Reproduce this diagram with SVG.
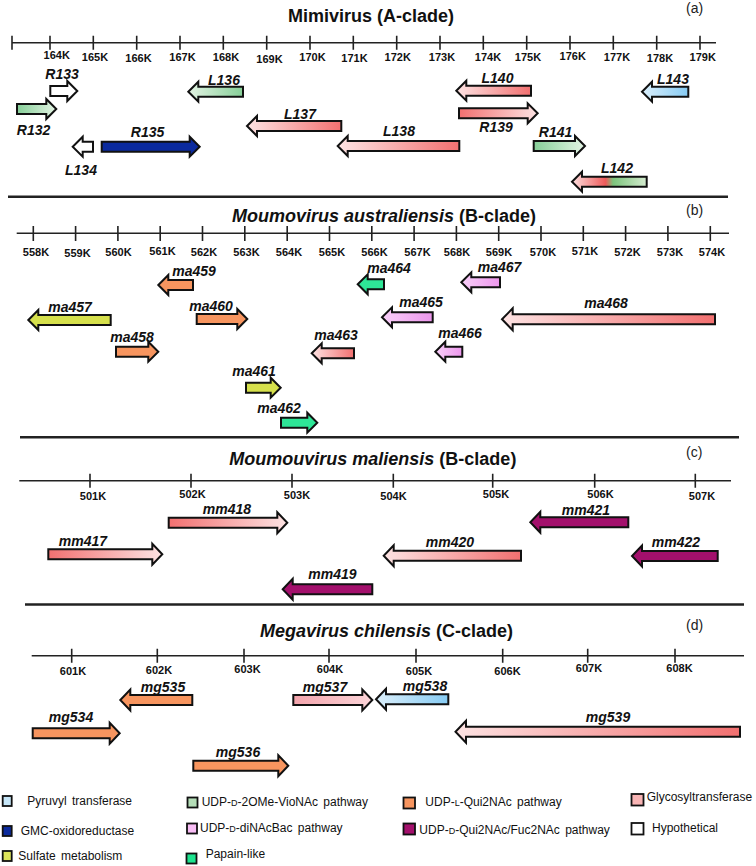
<svg xmlns="http://www.w3.org/2000/svg" width="756" height="866" viewBox="0 0 756 866">
<style>
.ax{stroke:#222;stroke-width:1.6;fill:none}
.sep{stroke:#222;stroke-width:2.4;fill:none}
.tk{font-family:"Liberation Sans",Arial,sans-serif;font-weight:bold;font-size:11px;fill:#111;text-anchor:middle}
.tt{font-family:"Liberation Sans",Arial,sans-serif;font-weight:bold;font-size:18px;fill:#111}
.pl{font-family:"Liberation Sans",Arial,sans-serif;font-size:14px;fill:#222}
.gl{font-family:"Liberation Sans",Arial,sans-serif;font-weight:bold;font-style:italic;font-size:14px;fill:#111;text-anchor:middle}
.g path{stroke:#111;stroke-width:2;stroke-linejoin:miter}
.lg{font-family:"Liberation Sans",Arial,sans-serif;font-size:12px;fill:#111;word-spacing:2px}
.sw{stroke:#111;stroke-width:1.8}
.sc{font-size:9px}
</style>
<defs>
<linearGradient id="pinkR" x1="0" y1="0" x2="1" y2="0"><stop offset="0" stop-color="#f27070"/><stop offset="1" stop-color="#fde3e3"/></linearGradient>
<linearGradient id="pinkL" x1="0" y1="0" x2="1" y2="0"><stop offset="0" stop-color="#fde3e3"/><stop offset="1" stop-color="#f27070"/></linearGradient>
<linearGradient id="pinkLt" x1="0" y1="0" x2="1" y2="0"><stop offset="0" stop-color="#f3a4ac"/><stop offset="1" stop-color="#fbd4d8"/></linearGradient>
<linearGradient id="greenR" x1="0" y1="0" x2="1" y2="0"><stop offset="0" stop-color="#86cf98"/><stop offset="1" stop-color="#e4f4e4"/></linearGradient>
<linearGradient id="greenL" x1="0" y1="0" x2="1" y2="0"><stop offset="0" stop-color="#e4f4e4"/><stop offset="1" stop-color="#86cf98"/></linearGradient>
<linearGradient id="blueL" x1="0" y1="0" x2="1" y2="0"><stop offset="0" stop-color="#dbeffb"/><stop offset="1" stop-color="#86cbf3"/></linearGradient>
<linearGradient id="violetL" x1="0" y1="0" x2="1" y2="0"><stop offset="0" stop-color="#f9d0f9"/><stop offset="1" stop-color="#ec96ec"/></linearGradient>
<linearGradient id="rg" x1="0" y1="0" x2="1" y2="0"><stop offset="0" stop-color="#fde0e0"/><stop offset="0.45" stop-color="#ee5a5a"/><stop offset="0.55" stop-color="#7cc47c"/><stop offset="1" stop-color="#d5ecd0"/></linearGradient>
</defs>
<rect width="756" height="866" fill="#fff"/>

<g id="axes">
<!-- panel a -->
<text class="tt" x="288" y="22">Mimivirus (A-clade)</text>
<text class="pl" x="686" y="12.5">(a)</text>
<path class="ax" d="M12,42.7H716M12,35.7V49.7M50,35.7V49.7M93.3,35.7V49.7M136.7,35.7V49.7M180,35.7V49.7M223.3,35.7V49.7M266.7,35.7V49.7M310,35.7V49.7M353.3,35.7V49.7M396.7,35.7V49.7M440,35.7V49.7M483.3,35.7V49.7M526.7,35.7V49.7M570,35.7V49.7M613.3,35.7V49.7M656.7,35.7V49.7M700,35.7V49.7"/>
<text class="tk" x="56.7" y="59">164K</text><text class="tk" x="95" y="60.5">165K</text><text class="tk" x="138.5" y="62">166K</text><text class="tk" x="182.5" y="61">167K</text><text class="tk" x="226" y="61">168K</text><text class="tk" x="269.5" y="62.5">169K</text><text class="tk" x="312.5" y="61">170K</text><text class="tk" x="354.5" y="61.5">171K</text><text class="tk" x="397.7" y="61">172K</text><text class="tk" x="442" y="61">173K</text><text class="tk" x="488" y="61">174K</text><text class="tk" x="528" y="61">175K</text><text class="tk" x="572.7" y="60">176K</text><text class="tk" x="617" y="61">177K</text><text class="tk" x="660" y="61.5">178K</text><text class="tk" x="702.7" y="60.5">179K</text>
<path class="sep" d="M8,196.7H728"/>

<!-- panel b -->
<text class="tt" x="232" y="221.5"><tspan font-style="italic">Moumovirus australiensis</tspan> (B-clade)</text>
<text class="pl" x="686" y="214.7">(b)</text>
<path class="ax" d="M16.7,233.3H729M33.3,226V241M75.6,226V241M117.9,226V241M160.2,226V241M202.5,226V241M244.8,226V241M287.2,226V241M329.5,226V241M371.8,226V241M414.1,226V241M456.4,226V241M498.7,226V241M541,226V241M583.3,226V241M625.6,226V241M667.9,226V241M710.3,226V241"/>
<text class="tk" x="36" y="256">558K</text><text class="tk" x="77.5" y="256.5">559K</text><text class="tk" x="118.5" y="256">560K</text><text class="tk" x="162.5" y="254.5">561K</text><text class="tk" x="204" y="256">562K</text><text class="tk" x="246.5" y="256">563K</text><text class="tk" x="289" y="255.5">564K</text><text class="tk" x="332" y="255.5">565K</text><text class="tk" x="374.5" y="256">566K</text><text class="tk" x="417.5" y="256">567K</text><text class="tk" x="457" y="256">568K</text><text class="tk" x="499" y="256">569K</text><text class="tk" x="543" y="256">570K</text><text class="tk" x="585" y="255">571K</text><text class="tk" x="627.5" y="255.5">572K</text><text class="tk" x="670" y="255.5">573K</text><text class="tk" x="712" y="255.5">574K</text>
<path class="sep" d="M20,437.3H739"/>

<!-- panel c -->
<text class="tt" x="229.3" y="465"><tspan font-style="italic">Moumouvirus maliensis</tspan> (B-clade)</text>
<text class="pl" x="686" y="456.5">(c)</text>
<path class="ax" d="M19.3,480.7H731M90,473.7V487.7M191,473.7V487.7M292,473.7V487.7M393.3,473.7V487.7M492.7,473.7V487.7M594.7,473.7V487.7M695.3,473.7V487.7"/>
<text class="tk" x="93" y="500">501K</text><text class="tk" x="192.5" y="498.3">502K</text><text class="tk" x="297" y="499">503K</text><text class="tk" x="393.5" y="500">504K</text><text class="tk" x="496" y="498">505K</text><text class="tk" x="600.5" y="498">506K</text><text class="tk" x="702" y="500">507K</text>
<path class="sep" d="M25,604.5H744"/>

<!-- panel d -->
<text class="tt" x="260" y="636.5"><tspan font-style="italic">Megavirus chilensis</tspan> (C-clade)</text>
<text class="pl" x="686" y="629.7">(d)</text>
<path class="ax" d="M31.7,655.7H744M71.7,648.7V662.7M157.3,648.7V662.7M244,648.7V662.7M329,648.7V662.7M416,648.7V662.7M502.7,648.7V662.7M587.7,648.7V662.7M675,648.7V662.7"/>
<text class="tk" x="73" y="675">601K</text><text class="tk" x="159" y="674">602K</text><text class="tk" x="247.5" y="672.7">603K</text><text class="tk" x="330" y="672.7">604K</text><text class="tk" x="419" y="675">605K</text><text class="tk" x="507.5" y="675">606K</text><text class="tk" x="589" y="671.7">607K</text><text class="tk" x="679.5" y="671.7">608K</text>
</g>

<!-- genes panel a -->
<g id="R133" class="g"><path fill="#fff" d="M50.3,86H67.3V81L77.3,91L67.3,101V96H50.3Z"/><text class="gl" x="62" y="79">R133</text></g>
<g id="R132" class="g"><path fill="url(#greenR)" d="M17,104H46.3V99L56.3,109L46.3,119V114H17Z"/><text class="gl" x="33.5" y="135">R132</text></g>
<g id="L134" class="g"><path fill="#fff" d="M93,141.7H82.7V136.7L72.7,146.7L82.7,156.7V151.7H93Z"/><text class="gl" x="81" y="175">L134</text></g>
<g id="R135" class="g"><path fill="#0b2a9e" d="M101.7,141.7H189.7V136.7L199.7,146.7L189.7,156.7V151.7H101.7Z"/><text class="gl" x="147.5" y="136.7">R135</text></g>
<g id="L136" class="g"><path fill="url(#greenL)" d="M243,86.7H198.3V81.7L188.3,91.7L198.3,101.7V96.7H243Z"/><text class="gl" x="224" y="85">L136</text></g>
<g id="L137" class="g"><path fill="url(#pinkL)" d="M341.3,121H257V116L247,126L257,136V131H341.3Z"/><text class="gl" x="300" y="119">L137</text></g>
<g id="L138" class="g"><path fill="url(#pinkL)" d="M459.3,141H347.7V136L337.7,146L347.7,156V151H459.3Z"/><text class="gl" x="399" y="135.7">L138</text></g>
<g id="L140" class="g"><path fill="url(#pinkL)" d="M531,85.7H466.3V80.7L456.3,90.7L466.3,100.7V95.7H531Z"/><text class="gl" x="497.5" y="83.3">L140</text></g>
<g id="R139" class="g"><path fill="url(#pinkR)" d="M459,108.3H527.7V103.3L537.7,113.3L527.7,123.3V118.3H459Z"/><text class="gl" x="496" y="131.7">R139</text></g>
<g id="R141" class="g"><path fill="url(#greenR)" d="M533.7,141H575V136L585,146L575,156V151H533.7Z"/><text class="gl" x="555.5" y="136.7">R141</text></g>
<g id="L142" class="g"><path fill="url(#rg)" d="M646.7,176.7H582V171.7L572,181.7L582,191.7V186.7H646.7Z"/><text class="gl" x="617" y="173.3">L142</text></g>
<g id="L143" class="g"><path fill="url(#blueL)" d="M688.3,86.7H652V81.7L642,91.7L652,101.7V96.7H688.3Z"/><text class="gl" x="673" y="84">L143</text></g>

<!-- genes panel b -->
<g id="ma459" class="g"><path fill="#f7955f" d="M193,280H168.3V275L158.3,285L168.3,295V290H193Z"/><text class="gl" x="194" y="276">ma459</text></g>
<g id="ma457" class="g"><path fill="#d6e04c" d="M110.7,315H38.3V310L28.3,320L38.3,330V325H110.7Z"/><text class="gl" x="70" y="312">ma457</text></g>
<g id="ma460" class="g"><path fill="#f7955f" d="M196.7,314H237.3V309L247.3,319L237.3,329V324H196.7Z"/><text class="gl" x="211" y="311">ma460</text></g>
<g id="ma458" class="g"><path fill="#f7955f" d="M116,346.7H148.3V341.7L158.3,351.7L148.3,361.7V356.7H116Z"/><text class="gl" x="132" y="341.7">ma458</text></g>
<g id="ma463" class="g"><path fill="url(#pinkL)" d="M354,348.3H321.7V343.3L311.7,353.3L321.7,363.3V358.3H354Z"/><text class="gl" x="336" y="340">ma463</text></g>
<g id="ma461" class="g"><path fill="#d6e04c" d="M246,382.7H270.7V377.7L280.7,387.7L270.7,397.7V392.7H246Z"/><text class="gl" x="254" y="375.7">ma461</text></g>
<g id="ma462" class="g"><path fill="#2ee697" d="M281,417.7H307.3V412.7L317.3,422.7L307.3,432.7V427.7H281Z"/><text class="gl" x="279" y="413.3">ma462</text></g>
<g id="ma464" class="g"><path fill="#2ee697" d="M384,279.3H367.7V274.3L357.7,284.3L367.7,294.3V289.3H384Z"/><text class="gl" x="389" y="273.3">ma464</text></g>
<g id="ma467" class="g"><path fill="url(#violetL)" d="M500,277.3H471.3V272.3L461.3,282.3L471.3,292.3V287.3H500Z"/><text class="gl" x="499.5" y="272.3">ma467</text></g>
<g id="ma465" class="g"><path fill="url(#violetL)" d="M432.7,312.3H392V307.3L382,317.3L392,327.3V322.3H432.7Z"/><text class="gl" x="421" y="306.7">ma465</text></g>
<g id="ma466" class="g"><path fill="url(#violetL)" d="M462.3,346.7H445.3V341.7L435.3,351.7L445.3,361.7V356.7H462.3Z"/><text class="gl" x="460" y="337.7">ma466</text></g>
<g id="ma468" class="g"><path fill="url(#pinkL)" d="M715,314.3H512.7V308.3L502,319.3L512.7,330.3V324.3H715Z"/><text class="gl" x="606" y="308.3">ma468</text></g>

<!-- genes panel c -->
<g id="mm418" class="g"><path fill="url(#pinkR)" d="M168.7,517.7H277.3V512.2L287.3,522.7L277.3,533.2V527.7H168.7Z"/><text class="gl" x="227" y="514">mm418</text></g>
<g id="mm417" class="g"><path fill="url(#pinkR)" d="M48.3,549.3H152.3V543.8L162.3,554.3L152.3,564.8V559.3H48.3Z"/><text class="gl" x="83" y="546">mm417</text></g>
<g id="mm419" class="g"><path fill="#a3106c" d="M372.3,584.3H292.7V578.8L282.7,589.3L292.7,599.8V594.3H372.3Z"/><text class="gl" x="332.5" y="579">mm419</text></g>
<g id="mm421" class="g"><path fill="#a3106c" d="M628.3,517.3H540.3V511.8L530.3,522.3L540.3,532.8V527.3H628.3Z"/><text class="gl" x="586" y="515">mm421</text></g>
<g id="mm420" class="g"><path fill="url(#pinkL)" d="M521,550.7H393.7V545.2L383.7,555.7L393.7,566.2V560.7H521Z"/><text class="gl" x="450" y="546.7">mm420</text></g>
<g id="mm422" class="g"><path fill="#a3106c" d="M717.7,551H642V545.5L632,556L642,566.5V561H717.7Z"/><text class="gl" x="676" y="546.7">mm422</text></g>

<!-- genes panel d -->
<g id="mg535" class="g"><path fill="#f7955f" d="M192.3,695H130.3V689.5L120.3,700L130.3,710.5V705H192.3Z"/><text class="gl" x="163" y="692.3">mg535</text></g>
<g id="mg534" class="g"><path fill="#f7955f" d="M32.7,728.3H109.7V722.8L119.7,733.3L109.7,743.8V738.3H32.7Z"/><text class="gl" x="71" y="721.7">mg534</text></g>
<g id="mg536" class="g"><path fill="#f7955f" d="M193.3,760.7H278.3V755.2L288.3,765.7L278.3,776.2V770.7H193.3Z"/><text class="gl" x="238" y="756.7">mg536</text></g>
<g id="mg537" class="g"><path fill="url(#pinkLt)" d="M293.3,695H362.3V689.5L372.3,700L362.3,710.5V705H293.3Z"/><text class="gl" x="325" y="692.3">mg537</text></g>
<g id="mg538" class="g"><path fill="url(#blueL)" d="M448.3,694.3H386V688.8L376,699.3L386,709.8V704.3H448.3Z"/><text class="gl" x="425" y="690.7">mg538</text></g>
<g id="mg539" class="g"><path fill="url(#pinkL)" d="M740,726.7H466V720.7L455.5,731.7L466,742.7V736.7H740Z"/><text class="gl" x="608" y="721.7">mg539</text></g>

<!-- legend -->
<g id="legend">
<rect class="sw" x="2.7" y="796" width="9" height="10" fill="#c6e6f8"/><text class="lg" x="27.3" y="805">Pyruvyl transferase</text>
<rect class="sw" x="2.7" y="826" width="9" height="10" fill="#0b2a9c"/><text class="lg" x="20.7" y="835">GMC-oxidoreductase</text>
<rect class="sw" x="2.7" y="851" width="9" height="10" fill="#dde45a"/><text class="lg" x="18.3" y="860">Sulfate metabolism</text>
<rect class="sw" x="187.5" y="797.5" width="10" height="10" fill="#b5deb8"/><text class="lg" x="201.7" y="806">UDP-<tspan class="sc">D</tspan>-2OMe-VioNAc pathway</text>
<rect class="sw" x="187" y="823.5" width="10" height="10" fill="#f8bdf5"/><text class="lg" x="200" y="832">UDP-<tspan class="sc">D</tspan>-diNAcBac pathway</text>
<rect class="sw" x="186.5" y="853.5" width="10" height="10" fill="#1de38e"/><text class="lg" x="205.7" y="858">Papain-like</text>
<rect class="sw" x="403.5" y="797.5" width="11.5" height="11" fill="#f7955f"/><text class="lg" x="425.3" y="806">UDP-<tspan class="sc">L</tspan>-Qui2NAc pathway</text>
<rect class="sw" x="403.5" y="823.5" width="11.5" height="11" fill="#a3106c"/><text class="lg" x="419.3" y="834">UDP-<tspan class="sc">D</tspan>-Qui2NAc/Fuc2NAc pathway</text>
<rect class="sw" x="631.5" y="794" width="12" height="11.5" fill="#f8b4b4"/><text class="lg" x="646.7" y="801" word-spacing="0">Glycosyltransferase</text>
<rect class="sw" x="631.5" y="823" width="12" height="11.5" fill="#fff"/><text class="lg" x="652" y="832">Hypothetical</text>
</g>
</svg>
